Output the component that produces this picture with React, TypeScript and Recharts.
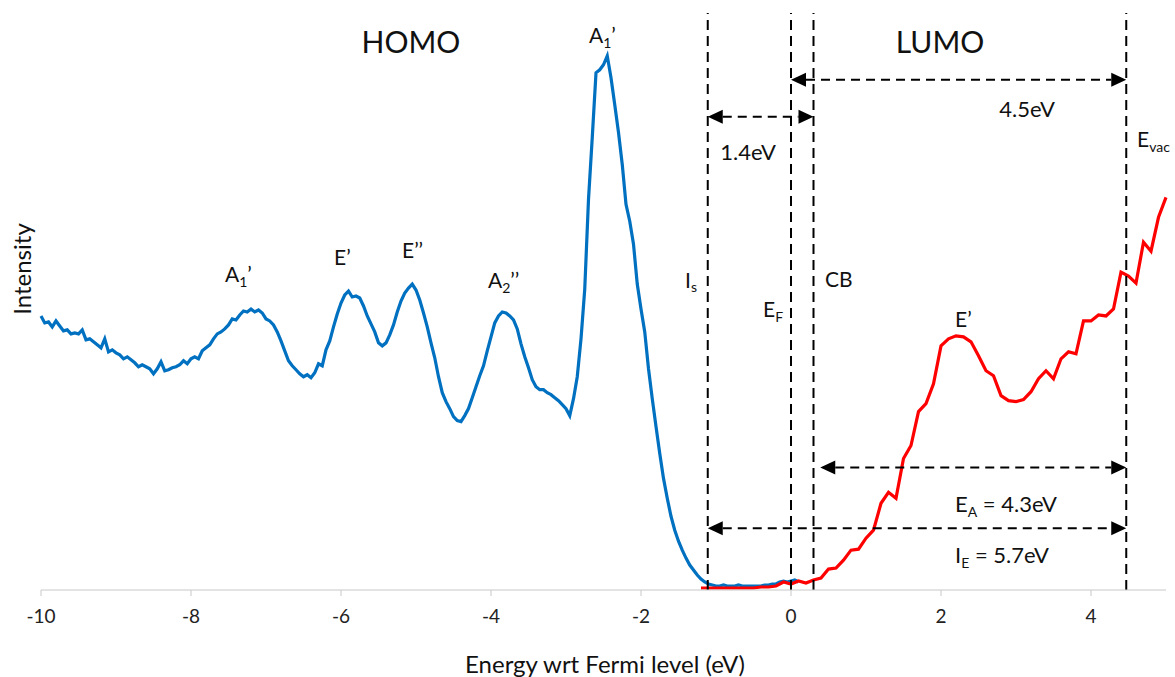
import { LineChart, Line, XAxis, YAxis, ReferenceLine } from "recharts";

// UPS (HOMO) spectrum, 0.05 eV steps from -10 eV
const blueStart = -10;
const blueStep = 0.05;
const blueIntensity = [
  273, 266, 267, 262, 268, 263, 258, 259, 255, 256, 255, 259, 249, 250, 247, 244, 241, 250, 237, 239,
  236, 234, 230, 232, 229, 226, 222, 224, 222, 220, 215, 220, 227, 218, 219, 221, 222, 224, 228, 225,
  230, 232, 230, 238, 241, 244, 250, 255, 257, 260, 264, 270, 269, 274, 278, 277, 280, 277, 279, 276,
  270, 268, 264, 257, 248, 238, 228, 223, 219, 215, 212, 214, 211, 216, 225, 223, 239, 248, 262, 275,
  286, 294, 298, 292, 293, 291, 283, 273, 265, 257, 246, 243, 246, 254, 264, 277, 288, 296, 301, 305,
  299, 289, 276, 262, 246, 231, 212, 196, 187, 180, 172, 168, 167, 173, 180, 191, 202, 213, 223, 238,
  252, 266, 273, 277, 276, 273, 269, 260, 245, 232, 221, 209, 202, 199, 199, 196, 194, 191, 188, 184,
  180, 173, 190, 212, 250, 300, 390, 452, 517, 520, 525, 534, 512, 485, 457, 425, 385, 368, 345, 305,
  280, 257, 220, 190, 162, 135, 110, 90, 72, 58, 47, 38, 30, 23, 18, 13, 9, 6, 4, 3,
  2, 2, 3, 2, 2, 2, 3, 2, 2, 2, 2, 2, 2, 3, 3, 4, 4, 6, 7, 6,
  7, 8, 6,
];

// IPES (LUMO) spectrum, 0.1 eV steps from -1.2 eV
const redStart = -1.2;
const redStep = 0.1;
const redIntensity = [
  0, 0, 0, 0, 0, 0, 0, 0, 1, 1,
  2, 6, 4, 7, 5, 8, 10, 19, 20, 28,
  38, 39, 50, 58, 85, 96, 90, 130, 143, 177,
  185, 205, 243, 250, 253, 252, 247, 233, 218, 213,
  193, 188, 187, 189, 197, 210, 218, 210, 230, 237,
  235, 268, 268, 274, 273, 280, 317, 313, 306, 347,
  338, 372, 392,
];

const xTicks = [-10, -8, -6, -4, -2, 0, 2, 4];

// Is, EF, CB, Evac
const levelLines = [-1.11, 0, 0.3, 4.47];

const gapArrows = [
  { from: 0, to: 4.47, y: 510 },
  { from: -1.11, to: 0.3, y: 473 },
  { from: 0.39, to: 4.47, y: 121 },
  { from: -1.11, to: 4.47, y: 60 },
];

const blueData = blueIntensity.map((v, i) => ({ e: +(blueStart + i * blueStep).toFixed(2), v }));
const redData = redIntensity.map((v, i) => ({ e: +(redStart + i * redStep).toFixed(2), v }));

const FONT = "Lato, 'Open Sans', sans-serif";

function DoubleArrow(p: any) {
  const { x1, y1, x2 } = p;
  const l = Math.min(x1, x2);
  const r = Math.max(x1, x2);
  const h = 15;
  const w = 7;
  return (
    <g>
      <line x1={l + h} y1={y1} x2={r - h} y2={y1} stroke="#000" strokeWidth={2} strokeDasharray="9 6" />
      <polygon points={`${l},${y1} ${l + h},${y1 - w} ${l + h},${y1 + w}`} fill="#000" />
      <polygon points={`${r},${y1} ${r - h},${y1 - w} ${r - h},${y1 + w}`} fill="#000" />
    </g>
  );
}

function Labels() {
  const t = { fontFamily: FONT, fill: "#111" } as const;
  return (
    <svg width={1175} height={677} style={{ position: "absolute", left: 0, top: 0, pointerEvents: "none" }}>
      <text x={411} y={53} fontSize={30} textAnchor="middle" {...t}>HOMO</text>
      <text x={940} y={53} fontSize={30} textAnchor="middle" {...t}>LUMO</text>
      <text x={1027} y={117} fontSize={22} textAnchor="middle" {...t}>4.5eV</text>
      <text x={748} y={160} fontSize={22} textAnchor="middle" {...t}>1.4eV</text>
      <text x={1137} y={147} fontSize={21} {...t}>
        E<tspan fontSize={14} dy={5}>vac</tspan>
      </text>
      <text x={589} y={43} fontSize={21} {...t}>
        A<tspan fontSize={14} dy={5}>1</tspan><tspan dy={-5}>’</tspan>
      </text>
      <text x={225} y={282} fontSize={21} {...t}>
        A<tspan fontSize={14} dy={5}>1</tspan><tspan dy={-5}>’</tspan>
      </text>
      <text x={334} y={265} fontSize={21} {...t}>E’</text>
      <text x={402} y={258} fontSize={21} {...t}>E’’</text>
      <text x={488} y={288} fontSize={21} {...t}>
        A<tspan fontSize={14} dy={5}>2</tspan><tspan dy={-5}>’’</tspan>
      </text>
      <text x={685} y={288} fontSize={21} {...t}>
        I<tspan fontSize={14} dy={4}>s</tspan>
      </text>
      <text x={763} y={317} fontSize={21} {...t}>
        E<tspan fontSize={14} dy={5}>F</tspan>
      </text>
      <text x={825} y={287} fontSize={21} {...t}>CB</text>
      <text x={955} y={327} fontSize={21} {...t}>E’</text>
      <text x={955} y={512} fontSize={22} {...t}>
        E<tspan fontSize={14} dy={5}>A</tspan><tspan dy={-5}> = 4.3eV</tspan>
      </text>
      <text x={955} y={563} fontSize={22} {...t}>
        I<tspan fontSize={14} dy={5}>E</tspan><tspan dy={-5}> = 5.7eV</tspan>
      </text>
      <text x={0} y={0} fontSize={24} textAnchor="middle" transform="translate(31,269) rotate(-90)" {...t}>
        Intensity
      </text>
      <text x={605} y={673} fontSize={24} textAnchor="middle" {...t}>
        Energy wrt Fermi level (eV)
      </text>
    </svg>
  );
}

export default function App() {
  return (
    <div style={{ position: "absolute", left: 0, top: 0, width: 1175, height: 677, background: "#fff" }}>
      <LineChart width={1175} height={677} margin={{ top: 13, right: 9, left: 41, bottom: 27 }} style={{ fontFamily: FONT }}>
        <XAxis
          dataKey="e"
          type="number"
          domain={[-10, 5]}
          ticks={xTicks}
          height={60}
          axisLine={{ stroke: "#c8c8c8" }}
          tickLine={{ stroke: "#c8c8c8" }}
          tickSize={6}
          tickMargin={14}
          tick={{ fontSize: 19, fill: "#222", fontFamily: FONT }}
        />
        <YAxis hide type="number" domain={[-2, 577]} />
        <Line data={blueData} dataKey="v" type="linear" stroke="#0070c0" strokeWidth={3.2} dot={false} isAnimationActive={false} />
        <Line data={redData} dataKey="v" type="linear" stroke="#ff0000" strokeWidth={3.2} dot={false} isAnimationActive={false} />
        {levelLines.map((x) => (
          <ReferenceLine key={x} x={x} stroke="#000" strokeWidth={2} strokeDasharray="10 6" />
        ))}
        {gapArrows.map((a, i) => (
          <ReferenceLine
            key={i}
            segment={[{ x: a.from, y: a.y }, { x: a.to, y: a.y }]}
            shape={DoubleArrow}
          />
        ))}
      </LineChart>
      <Labels />
    </div>
  );
}
